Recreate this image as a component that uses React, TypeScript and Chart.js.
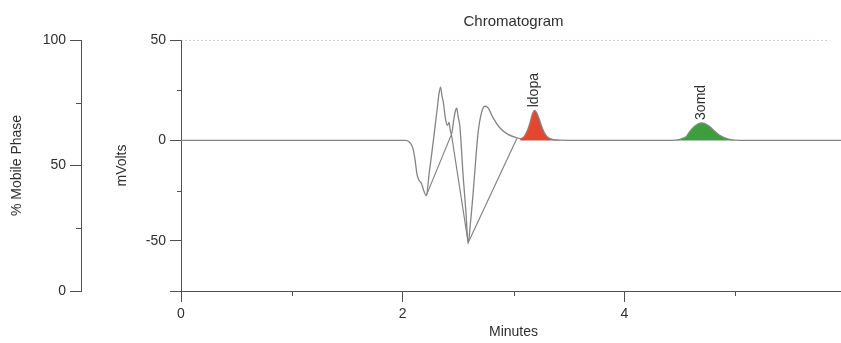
import React, { useEffect, useRef } from 'react';
import { Chart, registerables } from 'chart.js';

Chart.register(...registerables);

// ---- text ----
const chartTitle = 'Chromatogram';
const xTitle = 'Minutes';
const yTitle = 'mVolts';
const mobileTitle = '% Mobile Phase';

// ---- tick values ----
const xLabeled = [0, 2, 4, 6];
const xMinor = [1, 3, 5];
const mvLabeled = [-50, 0, 50];
const mvMinor = [-25, 25];
const mobileLabeled = [0, 50, 100];
const mobileMinor = [25, 75];

// ---- trace segments (minutes, mV) ----
const leadTimes = [0, 2.02, 2.06, 2.09, 2.11, 2.13, 2.15, 2.17, 2.19, 2.213, 2.24, 2.275, 2.31, 2.33, 2.342, 2.355, 2.367, 2.387, 2.405, 2.418, 2.43, 2.44, 2.46, 2.475, 2.488, 2.5, 2.516, 2.546, 2.57, 2.591, 2.61, 2.636, 2.66, 2.681, 2.711, 2.741, 2.771, 2.816, 2.876, 2.951, 3.027];
const leadValues = [0, 0, -0.8, -3.5, -9, -17, -20, -21.5, -25, -27.5, -16, -1, 15, 24, 26.5, 22, 19, 10.5, 7.5, 9, 5, 3, 10, 14.5, 16, 12, 7, -18, -35, -51, -42, -26, -9, 4, 13.7, 17, 16.2, 11.2, 6.3, 3, 1.3];

const ldopaTimes = [3.06, 3.09, 3.11, 3.13, 3.15, 3.17, 3.19, 3.21, 3.23, 3.25, 3.27, 3.29, 3.32, 3.36, 3.42];
const ldopaValues = [0.9, 1.6, 3.2, 5.5, 9, 13, 15, 13.8, 11, 7.5, 4.8, 2.8, 1.2, 0.4, 0.1];

const midTimes = [3.6, 4.4];
const midValues = [0, 0];

const omdTimes = [4.46, 4.5, 4.53, 4.56, 4.59, 4.62, 4.66, 4.695, 4.73, 4.77, 4.81, 4.85, 4.9, 4.95, 5.0];
const omdValues = [0.1, 0.5, 1.1, 2, 4.4, 6.3, 8, 8.7, 8.3, 6.9, 4.8, 2.9, 1.4, 0.5, 0.1];

const tailTimes = [5.1, 6];
const tailValues = [0, 0];

// integration baseline drawn by the software
const baselineTimes = [2.213, 2.44, 2.591, 3.03];
const baselineValues = [-27.5, 3, -51, 1];

// dashed limit line
const limitTimes = [0, 5.85];
const limitValues = [50, 50];

const peakNames = ['ldopa', '3omd'];

const pts = (t: number[], v: number[]) => t.map((x, i) => ({ x, y: v[i] }));

const tracePoints = [
  ...pts(leadTimes, leadValues),
  ...pts(ldopaTimes, ldopaValues),
  ...pts(midTimes, midValues),
  ...pts(omdTimes, omdValues),
  ...pts(tailTimes, tailValues),
];

const apex = (t: number[], v: number[]) => {
  let k = 0;
  v.forEach((y, i) => { if (y > v[k]) k = i; });
  return { t: t[k], v: v[k] };
};
const peakApexes = [apex(ldopaTimes, ldopaValues), apex(omdTimes, omdValues)];

const FONT = "'Liberation Sans', Arial, Helvetica, sans-serif";
const axisColor = '#505050';
const textColor = '#2f2f2f';
const traceColor = '#848484';

const extrasPlugin = {
  id: 'extras',
  afterDraw(chart: any) {
    const ctx = chart.ctx;
    const x = chart.scales.x;
    const y = chart.scales.y;
    const mp = chart.scales.mp;
    ctx.save();
    ctx.strokeStyle = axisColor;
    ctx.lineWidth = 1;
    ctx.beginPath();
    xMinor.forEach((v) => {
      const px = Math.round(x.getPixelForValue(v)) + 0.5;
      ctx.moveTo(px, x.top);
      ctx.lineTo(px, x.top + 5);
    });
    mvMinor.forEach((v) => {
      const py = Math.round(y.getPixelForValue(v)) + 0.5;
      ctx.moveTo(y.right - 4, py);
      ctx.lineTo(y.right, py);
    });
    mobileMinor.forEach((v) => {
      const py = Math.round(mp.getPixelForValue(v)) + 0.5;
      ctx.moveTo(mp.right - 5, py);
      ctx.lineTo(mp.right, py);
    });
    ctx.stroke();

    ctx.fillStyle = textColor;
    ctx.font = `14px ${FONT}`;
    ctx.textAlign = 'left';
    ctx.textBaseline = 'middle';
    peakApexes.forEach((p, i) => {
      const px = x.getPixelForValue(p.t);
      const py = y.getPixelForValue(p.v);
      ctx.save();
      ctx.translate(px, py - 3);
      ctx.rotate(-Math.PI / 2);
      ctx.fillText(peakNames[i], 0, 0);
      ctx.restore();
    });
    ctx.restore();
  },
};

export default function App() {
  const ref = useRef<HTMLCanvasElement>(null);

  useEffect(() => {
    if (!ref.current) return;
    const tickFont = { family: FONT, size: 14 };
    const chart = new Chart(ref.current, {
      type: 'line',
      data: {
        datasets: [
          {
            data: tracePoints,
            borderColor: traceColor,
            borderWidth: 1.3,
            pointRadius: 0,
            fill: false,
            cubicInterpolationMode: 'monotone',
            order: 0,
          },
          {
            data: pts(baselineTimes, baselineValues),
            borderColor: traceColor,
            borderWidth: 1.2,
            pointRadius: 0,
            fill: false,
            tension: 0,
            order: 1,
          },
          {
            data: pts(limitTimes, limitValues),
            borderColor: '#d98a8a',
            borderWidth: 1,
            borderDash: [2, 2],
            pointRadius: 0,
            fill: false,
            order: 1,
          },
          {
            data: pts(ldopaTimes, ldopaValues),
            borderWidth: 0,
            borderColor: 'rgba(0,0,0,0)',
            backgroundColor: '#e3472f',
            pointRadius: 0,
            fill: 'origin',
            cubicInterpolationMode: 'monotone',
            order: 3,
          },
          {
            data: pts(omdTimes, omdValues),
            borderWidth: 0,
            borderColor: 'rgba(0,0,0,0)',
            backgroundColor: '#3e9e3e',
            pointRadius: 0,
            fill: 'origin',
            cubicInterpolationMode: 'monotone',
            order: 3,
          },
        ],
      },
      options: {
        responsive: false,
        animation: false,
        layout: { padding: { left: 0, right: 14, top: 0, bottom: 0 } },
        plugins: {
          legend: { display: false },
          tooltip: { enabled: false },
          title: {
            display: true,
            text: chartTitle,
            color: textColor,
            fullSize: false,
            font: { family: FONT, size: 15, weight: 'normal' },
            padding: { top: 13, bottom: 9 },
          },
        },
        scales: {
          x: {
            type: 'linear',
            position: 'bottom',
            min: 0,
            max: 6,
            afterFit: (s: any) => { s.height = 52; },
            ticks: {
              stepSize: 1,
              autoSkip: false,
              maxRotation: 0,
              padding: 4,
              color: textColor,
              font: tickFont,
              callback: (v: any) => (xLabeled.includes(Number(v)) ? String(v) : ''),
            },
            grid: {
              drawOnChartArea: false,
              tickLength: 11,
              tickColor: (c: any) => (xMinor.includes(c.tick?.value) ? 'rgba(0,0,0,0)' : axisColor),
            },
            border: { color: axisColor, width: 1 },
            title: {
              display: true,
              text: xTitle,
              color: textColor,
              font: { family: FONT, size: 14 },
              padding: { top: 0, bottom: 2 },
            },
          },
          y: {
            type: 'linear',
            position: 'left',
            weight: 0,
            min: -75,
            max: 50,
            afterFit: (s: any) => { s.width = 100; },
            ticks: {
              stepSize: 25,
              padding: 4,
              color: textColor,
              font: tickFont,
              callback: (v: any) => (mvLabeled.includes(Number(v)) ? String(v) : ''),
            },
            grid: {
              drawOnChartArea: false,
              tickLength: 11,
              tickColor: (c: any) => (mvMinor.includes(c.tick?.value) ? 'rgba(0,0,0,0)' : axisColor),
            },
            border: { color: axisColor, width: 1 },
            title: {
              display: true,
              text: yTitle,
              color: textColor,
              font: { family: FONT, size: 14 },
              padding: { top: 33, bottom: 0 },
            },
          },
          mp: {
            type: 'linear',
            position: 'left',
            weight: 10,
            min: 0,
            max: 100,
            afterFit: (s: any) => { s.width = 81; },
            ticks: {
              stepSize: 25,
              padding: 4,
              color: textColor,
              font: tickFont,
              callback: (v: any) => (mobileLabeled.includes(Number(v)) ? String(v) : ''),
            },
            grid: {
              drawOnChartArea: false,
              tickLength: 11,
              tickColor: (c: any) => (mobileMinor.includes(c.tick?.value) ? 'rgba(0,0,0,0)' : axisColor),
            },
            border: { color: axisColor, width: 1 },
            title: {
              display: true,
              text: mobileTitle,
              color: textColor,
              font: { family: FONT, size: 14 },
              padding: { top: 9, bottom: 0 },
            },
          },
        },
      },
      plugins: [extrasPlugin],
    } as any);
    return () => chart.destroy();
  }, []);

  return (
    <div style={{ position: 'fixed', left: 0, top: 0, width: 860, height: 343, background: '#fff' }}>
      <canvas ref={ref} width={860} height={343} style={{ display: 'block' }} />
    </div>
  );
}
